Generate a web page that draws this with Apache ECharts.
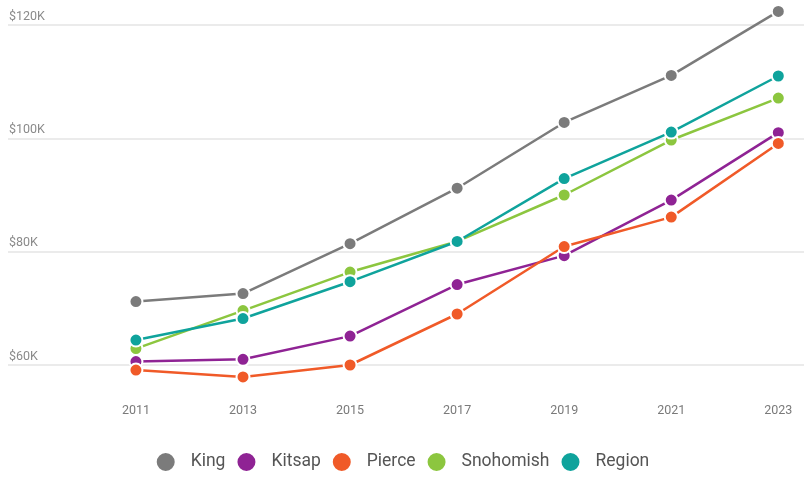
<!DOCTYPE html>
<html>
<head>
<meta charset="utf-8">
<script src="https://cdn.jsdelivr.net/npm/echarts@6/dist/echarts.min.js"></script>
<style>
  html, body { margin: 0; padding: 0; background: #ffffff; }
  #chart { width: 804px; height: 477px; }
</style>
</head>
<body>
<div id="chart"></div>
<script>
// Median household income by county (thousands of dollars)
const years = [2011, 2013, 2015, 2017, 2019, 2021, 2023];
const king = [71.2, 72.6, 81.4, 91.2, 102.8, 111.1, 122.4];
const kitsap = [60.6, 61.0, 65.1, 74.2, 79.3, 89.1, 101.0];
const pierce = [59.1, 57.9, 60.0, 69.0, 80.9, 86.1, 99.1];
const snohomish = [62.9, 69.6, 76.4, 81.8, 90.0, 99.7, 107.1];
const region = [64.4, 68.2, 74.7, 81.8, 92.9, 101.1, 111.0];
const yTicks = [60, 80, 100, 120];

const seriesDefs = [
  { name: 'King', values: king, color: '#7b7b7b' },
  { name: 'Kitsap', values: kitsap, color: '#8f2394' },
  { name: 'Pierce', values: pierce, color: '#f05a28' },
  { name: 'Snohomish', values: snohomish, color: '#8cc63f' },
  { name: 'Region', values: region, color: '#0fa39c' }
];

const chart = echarts.init(document.getElementById('chart'), null, { renderer: 'canvas' });

chart.setOption({
  backgroundColor: '#ffffff',
  animation: false,
  textStyle: { fontFamily: 'Roboto, sans-serif' },
  grid: { left: 8, right: 0, top: 25, bottom: 112, containLabel: false },
  xAxis: {
    type: 'value',
    min: 2008.61,
    max: 2023.48,
    splitLine: { show: false },
    axisLine: { show: false },
    axisTick: { show: false },
    axisLabel: {
      customValues: years,
      color: '#7a7a7a',
      fontSize: 12.5,
      margin: 39,
      formatter: v => String(v)
    }
  },
  yAxis: {
    type: 'value',
    min: yTicks[0],
    max: yTicks[yTicks.length - 1],
    interval: 20,
    axisLine: { show: false },
    axisTick: { show: false },
    splitLine: { lineStyle: { color: '#e4e4e4', width: 1.5 } },
    axisLabel: {
      inside: true,
      margin: 1,
      verticalAlign: 'bottom',
      padding: [0, 0, 2, 0],
      color: '#8a8a8a',
      fontSize: 12.5,
      formatter: v => '$' + v + 'K'
    }
  },
  legend: {
    bottom: -1,
    left: 'center',
    icon: 'circle',
    itemWidth: 40,
    itemHeight: 20,
    itemGap: 10,
    textStyle: { fontSize: 17.5, color: '#555555', fontFamily: 'Roboto, sans-serif' },
    data: seriesDefs.map(s => s.name)
  },
  series: seriesDefs.map(s => ({
    name: s.name,
    type: 'line',
    clip: false,
    data: years.map((y, i) => [y, s.values[i]]),
    symbol: 'circle',
    symbolSize: 13,
    color: s.color,
    lineStyle: { width: 2.5, color: s.color },
    itemStyle: { color: s.color, borderColor: '#ffffff', borderWidth: 2 },
    emphasis: { disabled: true }
  }))
});
</script>
</body>
</html>
